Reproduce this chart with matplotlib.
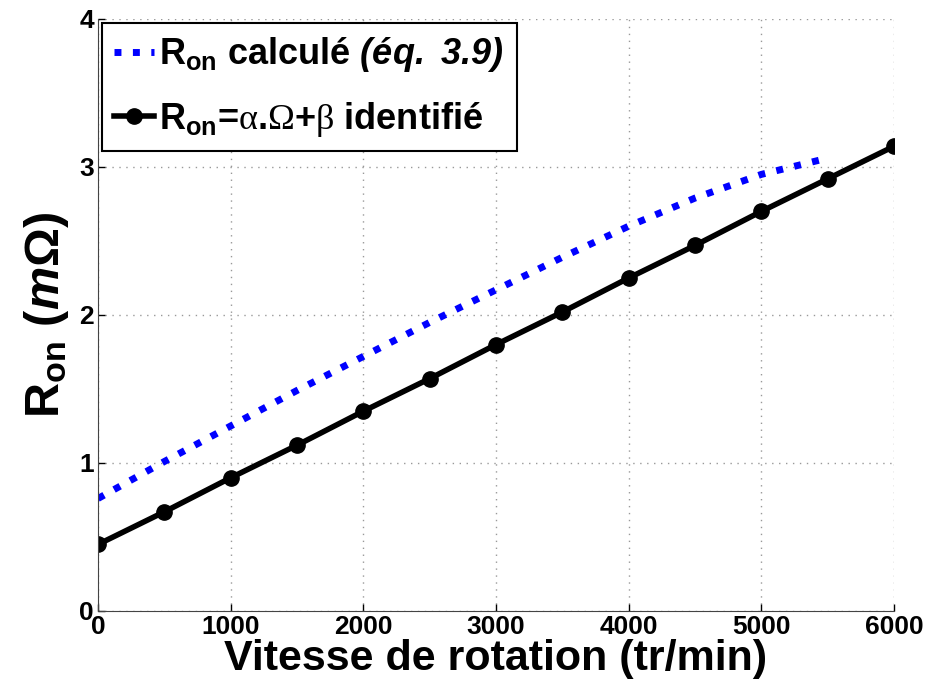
import matplotlib
matplotlib.use("Agg")
import matplotlib.pyplot as plt

plt.rcParams['font.family'] = ['Liberation Sans', 'DejaVu Sans']
plt.rcParams['font.weight'] = 'bold'
plt.rcParams['mathtext.fontset'] = 'custom'
plt.rcParams['mathtext.rm'] = 'Liberation Sans:bold:italic'
plt.rcParams['mathtext.it'] = 'Liberation Sans:bold:italic'
plt.rcParams['mathtext.bf'] = 'Liberation Sans:bold'
plt.rcParams['mathtext.sf'] = 'Liberation Serif:weight=normal:style=normal'

# vitesse (tr/min) et resistances (mOhm)
speed_calc = [0, 500, 1000, 1500, 2000, 2500, 3000, 3500, 4000, 4500, 5000, 5500]
ron_calc = [0.76, 1.01, 1.25, 1.49, 1.72, 1.95, 2.17, 2.39, 2.60, 2.79, 2.95, 3.06]

speed_id = [0, 500, 1000, 1500, 2000, 2500, 3000, 3500, 4000, 4500, 5000, 5500, 6000]
ron_id = [0.45, 0.67, 0.90, 1.12, 1.35, 1.57, 1.80, 2.02, 2.25, 2.47, 2.70, 2.92, 3.14]

fig = plt.figure(figsize=(9.26, 6.85), dpi=100)
ax = fig.add_axes([98/926, 74/685, 796/926, 592/685])

ax.plot(speed_calc, ron_calc, linestyle=':', color='#0000ff', linewidth=5,
        label=r'$\mathbf{R_{on}}$ calculé $\mathit{(éq.}$ $\mathit{3.9)}$')
ax.plot(speed_id, ron_id, '-o', color='black', linewidth=4, markersize=11,
        label=r'$\mathbf{R_{on}}$=$\mathsf{\alpha}$.$\mathsf{\Omega}$+$\mathsf{\beta}$ identifié')

ax.set_xlim(0, 6000)
ax.set_ylim(0, 4)
ax.set_xticks([0, 1000, 2000, 3000, 4000, 5000, 6000])
ax.set_yticks([0, 1, 2, 3, 4])
ax.grid(True, linestyle=(0, (1, 4)), color='#999999', linewidth=1)
ax.tick_params(direction='in', labelsize=19, length=5, width=1, colors='black', pad=3)
for lab in ax.get_xticklabels() + ax.get_yticklabels():
    lab.set_fontweight('bold')
ax.spines['top'].set_visible(False)
ax.spines['right'].set_visible(False)
ax.spines['left'].set_color('#444444')
ax.spines['bottom'].set_color('#444444')

ax.set_xlabel('Vitesse de rotation (tr/min)', fontsize=31, fontweight='bold', labelpad=0)
ax.set_ylabel(r'$\mathbf{R_{on}}$ ($\mathit{m}\mathbf{\Omega}$)', fontsize=35,
              fontweight='bold', labelpad=6)

leg = ax.legend(loc='upper left', fontsize=26, handlelength=1.1, handletextpad=0.15,
                borderaxespad=0.1, fancybox=False, framealpha=1, edgecolor='black',
                labelspacing=0.7, borderpad=0.35)
leg.get_frame().set_linewidth(1.5)

fig.savefig('out.png', dpi=100)
